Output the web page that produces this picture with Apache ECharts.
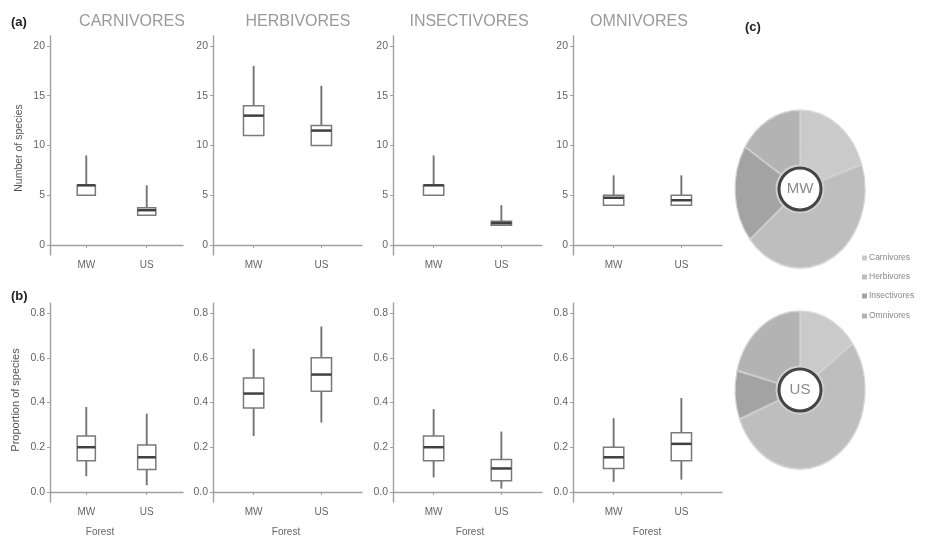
<!DOCTYPE html>
<html>
<head>
<meta charset="utf-8">
<script src="https://cdn.jsdelivr.net/npm/echarts@6/dist/echarts.min.js"></script>
<style>
  html, body { margin: 0; padding: 0; background: #ffffff; }
  #wrap { position: relative; width: 926px; height: 540px; overflow: hidden; }
  #main { position: absolute; left: 0; top: 0; width: 926px; height: 540px; z-index: 2; }
  .pie { position: absolute; width: 140px; height: 140px; z-index: 1; transform-origin: 50% 50%; }
</style>
</head>
<body>
<div id="wrap">
  <div id="pieMW" class="pie"></div>
  <div id="pieUS" class="pie"></div>
  <div id="main"></div>
</div>
<script>
// Forest types and feeding guilds
const forests = ['MW', 'US'];
const guilds = ['CARNIVORES', 'HERBIVORES', 'INSECTIVORES', 'OMNIVORES'];
const legendNames = ['Carnivores', 'Herbivores', 'Insectivores', 'Omnivores'];

// (a) number of species per site: [min, Q1, median, Q3, max] for MW, US
const countCarnivores   = [[5, 5, 6, 6, 9],        [3, 3, 3.5, 3.75, 6]];
const countHerbivores   = [[11, 11, 13, 14, 18],   [10, 10, 11.5, 12, 16]];
const countInsectivores = [[5, 5, 6, 6, 9],        [2, 2, 2.2, 2.4, 4]];
const countOmnivores    = [[4, 4, 4.75, 5, 7],     [4, 4, 4.5, 5, 7]];

// (b) proportion of species per site: [min, Q1, median, Q3, max]
const propCarnivores   = [[0.07, 0.14, 0.20, 0.25, 0.38],   [0.03, 0.10, 0.155, 0.21, 0.35]];
const propHerbivores   = [[0.25, 0.375, 0.44, 0.51, 0.64],  [0.31, 0.45, 0.525, 0.60, 0.74]];
const propInsectivores = [[0.065, 0.14, 0.20, 0.25, 0.37],  [0.015, 0.05, 0.105, 0.145, 0.27]];
const propOmnivores    = [[0.045, 0.105, 0.155, 0.20, 0.33], [0.055, 0.14, 0.215, 0.265, 0.42]];

// (c) mean guild composition
const shareMW = [0.20, 0.44, 0.20, 0.16];
const shareUS = [0.15, 0.54, 0.10, 0.21];

// axis ticks
const countTicks = [0, 5, 10, 15, 20];
const propTicks = [0, 0.2, 0.4, 0.6, 0.8];

const FONT = '"Liberation Sans", Arial, sans-serif';
const sliceColors = ['#cacaca', '#bebebe', '#a3a3a3', '#b3b3b3'];

const countData = [countCarnivores, countHerbivores, countInsectivores, countOmnivores];
const propData = [propCarnivores, propHerbivores, propInsectivores, propOmnivores];

// panel frames
const panelLeft = [50, 213, 393, 573];
const panelWidth = [133, 149, 149, 149];
const rowTop = [36, 303];
const rowHeight = [219, 199];
const rowRange = [[-1, 21], [-0.045, 0.845]];

const grids = [], xAxes = [], yAxes = [], series = [];

function renderBox(params, api) {
  const x = api.value(0);
  const lo = api.coord([x, api.value(1)]);
  const q1 = api.coord([x, api.value(2)]);
  const md = api.coord([x, api.value(3)]);
  const q3 = api.coord([x, api.value(4)]);
  const hi = api.coord([x, api.value(5)]);
  const half = api.size([0.3, 0])[0] / 2;
  const cx = lo[0];
  const whisker = { stroke: '#747474', lineWidth: 1.9 };
  return {
    type: 'group',
    children: [
      { type: 'line', shape: { x1: cx, y1: q3[1], x2: cx, y2: hi[1] }, style: whisker },
      { type: 'line', shape: { x1: cx, y1: lo[1], x2: cx, y2: q1[1] }, style: whisker },
      { type: 'rect', shape: { x: cx - half, y: q3[1], width: half * 2, height: Math.max(q1[1] - q3[1], 0.5) },
        style: { fill: '#ffffff', stroke: '#7a7a7a', lineWidth: 1.5 } },
      { type: 'line', shape: { x1: cx - half, y1: md[1], x2: cx + half, y2: md[1] },
        style: { stroke: '#404040', lineWidth: 2.5 } }
    ]
  };
}

for (let r = 0; r < 2; r++) {
  for (let c = 0; c < 4; c++) {
    const idx = grids.length;
    grids.push({ left: panelLeft[c], width: panelWidth[c], top: rowTop[r], height: rowHeight[r] });
    xAxes.push({
      gridIndex: idx, type: 'value', min: 0.4, max: 2.6,
      splitLine: { show: false },
      axisLine: { show: true, lineStyle: { color: '#a0a0a0', width: 1.4 } },
      axisTick: { show: true, length: 3, customValues: [1, 2], lineStyle: { color: '#a0a0a0' } },
      axisLabel: {
        customValues: [1, 2], margin: 5, color: '#666', fontSize: 10, fontFamily: FONT,
        formatter: v => forests[Math.round(v) - 1]
      }
    });
    const ticks = r === 0 ? countTicks : propTicks;
    yAxes.push({
      gridIndex: idx, type: 'value', min: rowRange[r][0], max: rowRange[r][1],
      splitLine: { show: false },
      axisLine: { show: true, lineStyle: { color: '#a0a0a0', width: 1.4 } },
      axisTick: { show: true, length: 3, customValues: ticks, lineStyle: { color: '#a0a0a0' } },
      axisLabel: {
        customValues: ticks, margin: 5, color: '#666', fontSize: 10.5, fontFamily: FONT,
        formatter: v => r === 0 ? String(Math.round(v)) : v.toFixed(1)
      }
    });
    const vals = (r === 0 ? countData : propData)[c];
    series.push({
      type: 'custom', xAxisIndex: idx, yAxisIndex: idx, silent: true,
      renderItem: renderBox,
      encode: { x: 0, y: [1, 2, 3, 4, 5] },
      data: forests.map((f, i) => [i + 1].concat(vals[i]))
    });
  }
}

// titles and annotations
const titleX = [132, 298, 469, 639];
const forestX = [100, 286, 470, 647];
const graphics = [];
guilds.forEach((g, i) => graphics.push({
  type: 'text', x: titleX[i], y: 22,
  style: { text: g, fill: '#9a9a9a', font: '16px ' + FONT, textAlign: 'center', textVerticalAlign: 'middle' }
}));
forestX.forEach(x => graphics.push({
  type: 'text', x: x, y: 532,
  style: { text: 'Forest', fill: '#666', font: '10px ' + FONT, textAlign: 'center', textVerticalAlign: 'middle' }
}));
[['(a)', 11, 22], ['(b)', 11, 296], ['(c)', 745, 27]].forEach(t => graphics.push({
  type: 'text', x: t[1], y: t[2],
  style: { text: t[0], fill: '#222', font: 'bold 13px ' + FONT, textVerticalAlign: 'middle' }
}));
graphics.push({
  type: 'text', x: 19, y: 148, rotation: Math.PI / 2,
  style: { text: 'Number of species', fill: '#555', font: '10.5px ' + FONT, textAlign: 'center', textVerticalAlign: 'middle' }
});
graphics.push({
  type: 'text', x: 16, y: 400, rotation: Math.PI / 2,
  style: { text: 'Proportion of species', fill: '#555', font: '11px ' + FONT, textAlign: 'center', textVerticalAlign: 'middle' }
});

// pie centres (drawn in separate instances) and their labelled hubs
const pieCentres = [[800, 189], [800, 390]];
forests.forEach((f, i) => {
  const [px, py] = pieCentres[i];
  graphics.push({ type: 'circle', shape: { cx: px, cy: py, r: 23.5 }, style: { fill: 'none', stroke: '#d0d0d0', lineWidth: 2 } });
  graphics.push({ type: 'circle', shape: { cx: px, cy: py, r: 21 }, style: { fill: '#ffffff', stroke: '#454545', lineWidth: 3 } });
  graphics.push({ type: 'text', x: px, y: py, style: { text: f, fill: '#8a8a8a', font: '15px ' + FONT, textAlign: 'center', textVerticalAlign: 'middle' } });
});

// legend for the pies
const legendY = [258, 277, 296, 316];
legendNames.forEach((n, i) => {
  graphics.push({ type: 'rect', shape: { x: 862, y: legendY[i] - 2.5, width: 5, height: 5 }, style: { fill: sliceColors[i] } });
  graphics.push({ type: 'text', x: 869, y: legendY[i], style: { text: n, fill: '#888', font: '8.5px ' + FONT, textVerticalAlign: 'middle' } });
});

const main = echarts.init(document.getElementById('main'), null, { renderer: 'canvas' });
main.setOption({
  animation: false,
  grid: grids, xAxis: xAxes, yAxis: yAxes, series: series,
  graphic: graphics
});

// elliptical pies: circular pie drawn in a box stretched vertically
const pieRadius = 65, pieStretch = 79 / 65;
function drawPie(id, shares, centre) {
  const el = document.getElementById(id);
  el.style.left = (centre[0] - 70) + 'px';
  el.style.top = (centre[1] - 70) + 'px';
  el.style.transform = 'scaleY(' + pieStretch + ')';
  const chart = echarts.init(el);
  chart.setOption({
    animation: false,
    series: [{
      type: 'pie', silent: true, center: ['50%', '50%'], radius: pieRadius,
      startAngle: 90, clockwise: true, label: { show: false }, labelLine: { show: false },
      itemStyle: { borderColor: '#d6d6d6', borderWidth: 1.2 },
      data: legendNames.map((n, i) => ({ name: n, value: shares[i], itemStyle: { color: sliceColors[i] } }))
    }]
  });
}
drawPie('pieMW', shareMW, pieCentres[0]);
drawPie('pieUS', shareUS, pieCentres[1]);
</script>
</body>
</html>
